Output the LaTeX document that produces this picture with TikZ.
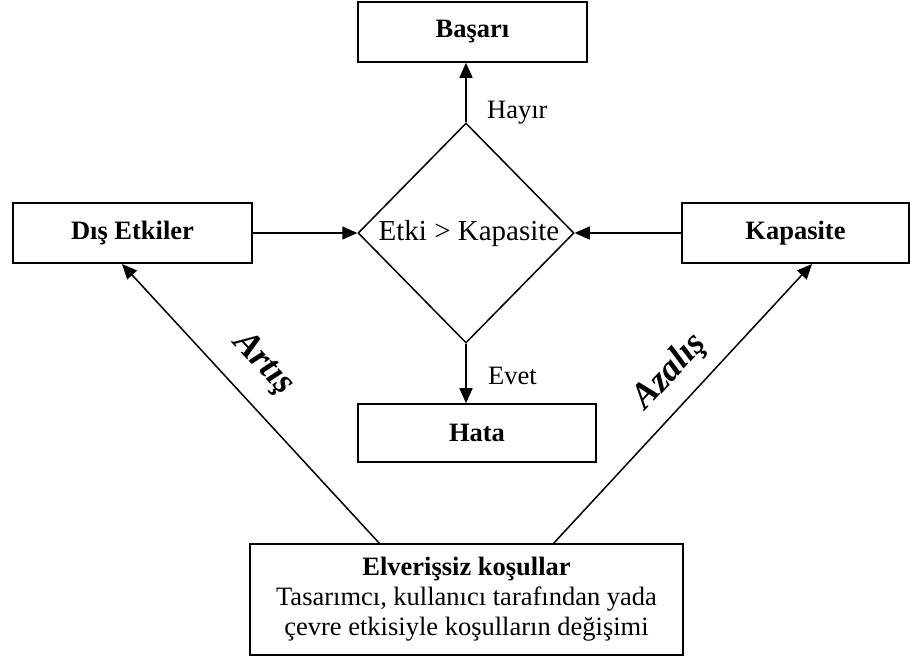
\documentclass[tikz,border=0pt]{standalone}
\usepackage{fontspec}
\setmainfont{Liberation Serif}
\usetikzlibrary{shapes.geometric,arrows.meta}
\begin{document}
\begin{tikzpicture}[x=1pt,y=-1pt,
  boxnode/.style={draw,line width=1.6pt,inner sep=0pt,font=\fontsize{26.5}{30}\bfseries\selectfont},
  arr/.style={line width=1.5pt,-{Triangle[length=15pt,width=13pt]}},
  lbl/.style={font=\fontsize{26.5}{30}\selectfont,inner sep=0pt},
  wordart/.style={font=\fontsize{36}{38}\bfseries\itshape\selectfont,inner sep=0pt}]
\useasboundingbox (0,0) rectangle (911,659);
\node[boxnode,minimum width=229pt,minimum height=60pt] (basari) at (472.5,32) {Başarı};
\node[draw,diamond,line width=1.5pt,minimum width=216pt,minimum height=220pt,inner sep=0pt] (karar) at (466,233) {};
\node[lbl,font=\fontsize{29}{32}\selectfont] (kararlbl) at (469,234) {Etki > Kapasite};
\node[boxnode,minimum width=239pt,minimum height=60pt] (dis) at (132.5,233) {Dış Etkiler};
\node[boxnode,minimum width=227pt,minimum height=60pt] (kap) at (795.5,233) {Kapasite};
\node[boxnode,minimum width=238pt,minimum height=58pt] (hata) at (477,433) {Hata};
\node[draw,line width=1.6pt,minimum width=433pt,minimum height=111pt,inner sep=0pt,
      align=center,font=\fontsize{26.5}{30}\selectfont] (elv) at (466.5,599.5)
  {{\bfseries Elverişsiz koşullar}\\Tasarımcı, kullanıcı tarafından yada\\çevre etkisiyle koşulların değişimi};
\coordinate (eL) at (380,544);
\coordinate (eR) at (553,544);
\coordinate (tL) at (122,264);
\coordinate (tR) at (812,264);
\draw[arr] (karar.north) -- (karar.north |- basari.south);
\draw[arr] (karar.south) -- (karar.south |- hata.north);
\draw[arr] (dis.east) -- (karar.west);
\draw[arr] (kap.west) -- (karar.east);
\draw[arr] (eL) -- (tL);
\draw[arr] (eR) -- (tR);
\node[lbl,anchor=west] (hayir) at (487,113) {Hayır};
\node[lbl,anchor=west] (evet) at (488,376) {Evet};
\node[wordart,rotate=-47] (artis) at (263,364) {Artış};
\node[wordart,rotate=47] (azalis) at (670,372) {Azalış};
\end{tikzpicture}
\end{document}
